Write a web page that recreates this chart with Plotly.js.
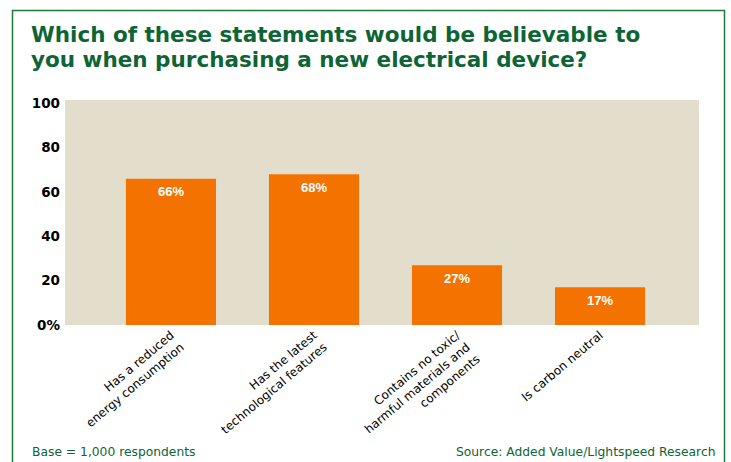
<!DOCTYPE html>
<html>
<head>
<meta charset="utf-8">
<script src="https://cdn.plot.ly/plotly-3.0.1.min.js"></script>
<style>
  html, body { margin: 0; padding: 0; background: #ffffff; }
  #chart { width: 731px; height: 462px; }
</style>
</head>
<body>
<div id="chart"></div>
<script>
// ---- data ----
const categories = [
  "Has a reduced<br>energy consumption",
  "Has the latest<br>technological features",
  "Contains no toxic/<br>harmful materials and<br>components",
  "Is carbon neutral"
];
const values = [66, 68, 27, 17];
const valueLabels = ["66%", "68%", "27%", "17%"];
const yTickVals = [0, 20, 40, 60, 80, 100];
const yTickText = ["0%", "20", "40", "60", "80", "100"];
const titleLines = [
  "Which of these statements would be believable to",
  "you when purchasing a new electrical device?"
];
const footLeft = "Base = 1,000 respondents";
const footRight = "Source: Added Value/Lightspeed Research";

// ---- layout helpers (pixel -> paper) ----
const W = 731, H = 462;
const M = { l: 65, r: 32, t: 100, b: 137 };
const PW = W - M.l - M.r, PH = H - M.t - M.b;
const px = x => (x - M.l) / PW;
const py = y => (H - M.b - y) / PH;

const GREEN = "#0d6434";
const BORDER = "#1f7a3f";
const ORANGE = "#f47300";
const BEIGE = "#e3decb";

const trace = {
  type: "bar",
  x: categories,
  y: values,
  marker: { color: ORANGE, line: { width: 0 } },
  hoverinfo: "none"
};

const annotations = [];
titleLines.forEach((t, i) => {
  annotations.push({
    text: t, xref: "paper", yref: "paper",
    x: px(29), y: py(i === 0 ? 34.3 : 59.7),
    xanchor: "left", yanchor: "middle", showarrow: false,
    font: { family: "DejaVu Sans", size: 21.5, color: GREEN, weight: "bold" }
  });
});
categories.forEach((c, i) => {
  annotations.push({
    text: valueLabels[i], x: c, y: values[i], xref: "x", yref: "y",
    yshift: -13, xanchor: "center", yanchor: "middle", showarrow: false,
    font: { family: "Liberation Sans", size: 13, color: "#ffffff", weight: "bold" }
  });
});
annotations.push({
  text: footLeft, xref: "paper", yref: "paper", x: px(30), y: py(452),
  xanchor: "left", yanchor: "middle", showarrow: false,
  font: { family: "DejaVu Sans", size: 12.3, color: GREEN }
});
annotations.push({
  text: footRight, xref: "paper", yref: "paper", x: px(717), y: py(452),
  xanchor: "right", yanchor: "middle", showarrow: false,
  font: { family: "DejaVu Sans", size: 12.3, color: GREEN }
});

const layout = {
  width: W, height: H,
  margin: M,
  paper_bgcolor: "#ffffff",
  plot_bgcolor: BEIGE,
  showlegend: false,
  bargap: 0.37,
  xaxis: {
    type: "category",
    range: [-0.741, 3.692],
    showgrid: false, zeroline: false, showline: false,
    ticks: "", tickangle: -40,
    tickfont: { family: "DejaVu Sans", size: 12, color: "#000000" },
    fixedrange: true
  },
  yaxis: {
    range: [0, 101.5],
    tickvals: yTickVals, ticktext: yTickText,
    showgrid: false, zeroline: false, showline: false,
    ticks: "", ticklabelstandoff: 4,
    tickfont: { family: "DejaVu Sans", size: 13.5, color: "#000000", weight: "bold" },
    fixedrange: true
  },
  shapes: [{
    type: "rect", xref: "paper", yref: "paper",
    x0: px(12.5), x1: px(724.5), y0: py(480), y1: py(10.5),
    line: { color: BORDER, width: 1.5 }, fillcolor: "rgba(0,0,0,0)", layer: "above"
  }],
  annotations: annotations
};

Plotly.newPlot("chart", [trace], layout, { staticPlot: true, displayModeBar: false });
</script>
</body>
</html>
